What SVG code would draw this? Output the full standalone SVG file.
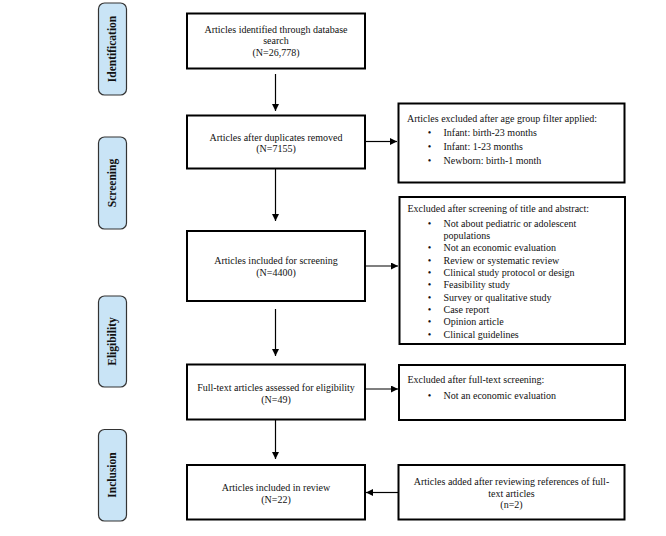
<svg xmlns="http://www.w3.org/2000/svg" width="666" height="536" viewBox="0 0 666 536">
<defs>
<marker id="ah" viewBox="0 0 10 10" refX="10" refY="5" markerWidth="7" markerHeight="7" markerUnits="userSpaceOnUse" orient="auto">
<path d="M0,0 L10,5 L0,10 z" fill="#000"/>
</marker>
</defs>
<style>
.box{fill:#fff;stroke:#000;stroke-width:2}
.pill{fill:#c9e4f6;stroke:#333;stroke-width:1.2}
.t{font-family:"Liberation Serif","Times New Roman",serif;font-size:10px;fill:#111}
.c{text-anchor:middle}
.ph{font-family:"Liberation Serif","Times New Roman",serif;font-size:11.5px;font-weight:bold;fill:#111;text-anchor:middle}
.ln{stroke:#000;stroke-width:1.2;fill:none;marker-end:url(#ah)}
</style>
<rect width="666" height="536" fill="#fff"/>
<g id="phases">
<g id="ph-identification"><rect class="pill" x="98.5" y="3" width="28" height="92" rx="6"/><text class="ph" transform="translate(116,49) rotate(-90)">Identification</text></g>
<g id="ph-screening"><rect class="pill" x="98.5" y="137" width="28" height="92" rx="6"/><text class="ph" transform="translate(116,183) rotate(-90)">Screening</text></g>
<g id="ph-eligibility"><rect class="pill" x="98.5" y="296" width="28" height="91" rx="6"/><text class="ph" transform="translate(116,341.5) rotate(-90)">Eligibility</text></g>
<g id="ph-inclusion"><rect class="pill" x="98.5" y="429.5" width="28" height="91.5" rx="6"/><text class="ph" transform="translate(116,475) rotate(-90)">Inclusion</text></g>
</g>
<g id="connectors">
<line class="ln" x1="275.5" y1="74" x2="275.5" y2="111"/>
<line class="ln" x1="365" y1="141.5" x2="397" y2="141.5"/>
<line class="ln" x1="275.5" y1="169" x2="275.5" y2="221"/>
<line class="ln" x1="365" y1="266" x2="398" y2="266"/>
<line class="ln" x1="275.5" y1="309" x2="275.5" y2="356"/>
<line class="ln" x1="365" y1="389" x2="398" y2="389"/>
<line class="ln" x1="275.5" y1="420" x2="275.5" y2="459"/>
<line class="ln" x1="398" y1="492.5" x2="366" y2="492.5"/>
</g>
<g id="n1"><rect class="box" x="187" y="13.5" width="178" height="55"/>
<text class="t c" x="276" y="32.5">Articles identified through database</text>
<text class="t c" x="276" y="44">search</text>
<text class="t c" x="276" y="55.5">(N=26,778)</text></g>
<g id="n2"><rect class="box" x="187" y="115.5" width="178" height="53"/>
<text class="t c" x="276" y="140.5">Articles after duplicates removed</text>
<text class="t c" x="276" y="152">(N=7155)</text></g>
<g id="n3"><rect class="box" x="187" y="231" width="178" height="70"/>
<text class="t c" x="276" y="264">Articles included for screening</text>
<text class="t c" x="276" y="275.5">(N=4400)</text></g>
<g id="n4"><rect class="box" x="187" y="364.5" width="178" height="55"/>
<text class="t c" x="276" y="390.5">Full-text articles assessed for eligibility</text>
<text class="t c" x="276" y="402.5">(N=49)</text></g>
<g id="n5"><rect class="box" x="187" y="465" width="178" height="54.5"/>
<text class="t c" x="276" y="491">Articles included in review</text>
<text class="t c" x="276" y="502.5">(N=22)</text></g>
<g id="e1"><rect class="box" x="398.5" y="103.5" width="226" height="79"/>
<text class="t" x="407" y="121.5">Articles excluded after age group filter applied:</text>
<g class="t"><text x="429.5" y="135.5" class="c">•</text><text x="443.5" y="135.5">Infant: birth-23 months</text>
<text x="429.5" y="150" class="c">•</text><text x="443.5" y="150">Infant: 1-23 months</text>
<text x="429.5" y="164" class="c">•</text><text x="443.5" y="164">Newborn: birth-1 month</text></g></g>
<g id="e2"><rect class="box" x="399.5" y="197" width="225.5" height="147"/>
<text class="t" x="407.5" y="211.5">Excluded after screening of title and abstract:</text>
<g class="t">
<text x="429.5" y="227" class="c">•</text><text x="443.5" y="227">Not about pediatric or adolescent</text>
<text x="443.5" y="238.5">populations</text>
<text x="429.5" y="251" class="c">•</text><text x="443.5" y="251">Not an economic evaluation</text>
<text x="429.5" y="263.5" class="c">•</text><text x="443.5" y="263.5">Review or systematic review</text>
<text x="429.5" y="275.5" class="c">•</text><text x="443.5" y="275.5">Clinical study protocol or design</text>
<text x="429.5" y="288" class="c">•</text><text x="443.5" y="288">Feasibility study</text>
<text x="429.5" y="300.5" class="c">•</text><text x="443.5" y="300.5">Survey or qualitative study</text>
<text x="429.5" y="312.5" class="c">•</text><text x="443.5" y="312.5">Case report</text>
<text x="429.5" y="325" class="c">•</text><text x="443.5" y="325">Opinion article</text>
<text x="429.5" y="337.5" class="c">•</text><text x="443.5" y="337.5">Clinical guidelines</text></g></g>
<g id="e3"><rect class="box" x="399" y="365" width="226" height="55"/>
<text class="t" x="407.5" y="383">Excluded after full-text screening:</text>
<text class="t c" x="429.5" y="399">•</text><text class="t" x="443.5" y="399">Not an economic evaluation</text></g>
<g id="a1"><rect class="box" x="398.5" y="465" width="226" height="54.5"/>
<text class="t c" x="511.5" y="485">Articles added after reviewing references of full-</text>
<text class="t c" x="511.5" y="496.5">text articles</text>
<text class="t c" x="511.5" y="508">(n=2)</text></g>
</svg>
